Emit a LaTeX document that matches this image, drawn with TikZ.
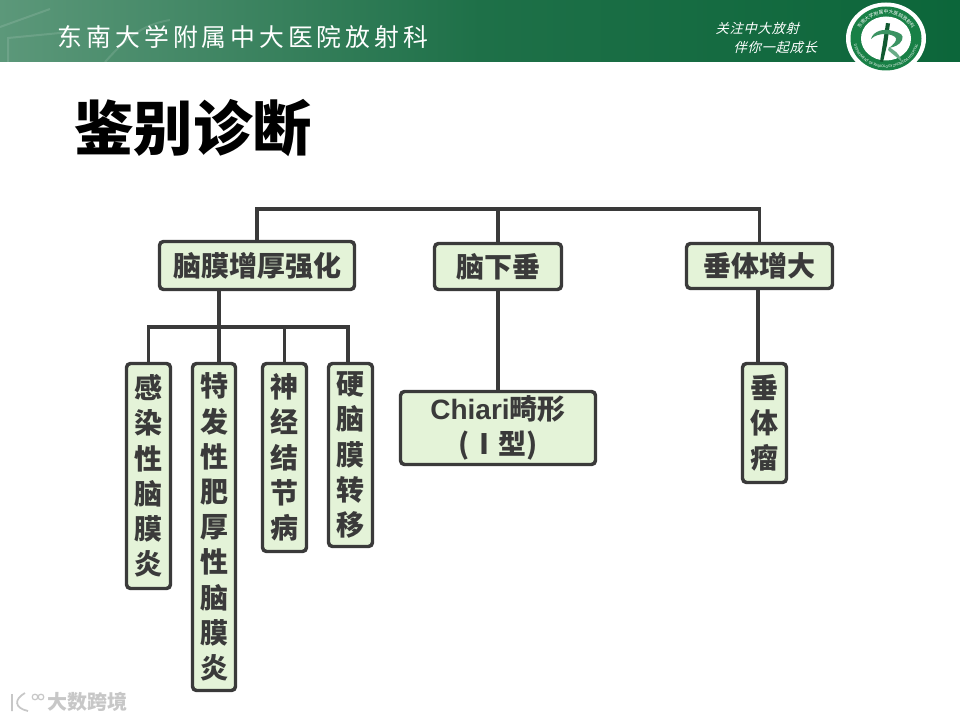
\documentclass[tikz,border=0pt]{standalone}
\usepackage{fontspec}
\usepackage{xcolor}
\setmainfont{Noto Sans CJK SC}
\newfontfamily\headfont[LetterSpace=16]{Noto Sans CJK SC}
\newfontfamily\mottofont[FakeSlant=0.25,LetterSpace=5]{Noto Sans CJK SC}
\newfontfamily\latinfont{Liberation Sans}
\usetikzlibrary{positioning,calc,decorations.text}
\definecolor{barleft}{RGB}{92,152,122}
\definecolor{barmid}{RGB}{30,112,72}
\definecolor{barright}{RGB}{12,102,58}
\definecolor{boxfill}{RGB}{228,243,216}
\definecolor{boxline}{RGB}{58,58,58}
\definecolor{logogreen}{RGB}{24,128,70}

\begin{document}
\begin{tikzpicture}[
    x=0.75pt, y=-0.75pt,
    item/.style={rectangle, draw=boxline, fill=boxfill, line width=2.6pt, rounded corners=3pt, inner sep=0pt, align=center, text=boxline, font=\fontsize{21}{26.4}\selectfont\bfseries},
    wh/.style 2 args={minimum width=#1*0.75pt, minimum height=#2*0.75pt},
    conn/.style={draw=boxline, line width=2.5pt},
]
\useasboundingbox (0,0) rectangle (960,720);
\fill[white] (0,0) rectangle (960,720);

% header band
\path[left color=barleft, right color=barright, middle color=barmid] (0,0) rectangle (960,62);
\draw[white, opacity=0.12, line width=1.5pt] (0,27) -- (50,9) (8,62) -- (8,38) -- (70,32) (105,62) .. controls (125,40) and (140,25) .. (170,20);
\node[text=white, font=\fontsize{18.6}{22}\headfont] (dept) at (243,37) {东南大学附属中大医院放射科};
\node[text=white, anchor=west, font=\fontsize{10}{12}\mottofont] (motto1) at (711,28) {关注中大放射};
\node[text=white, anchor=west, font=\fontsize{10}{12}\mottofont] (motto2) at (729,47) {伴你一起成长};

% logo
\fill[white] (886,38.5) ellipse [x radius=40, y radius=36];
\fill[logogreen] (886,38.5) ellipse [x radius=35.5, y radius=32];
\fill[white] (886,38.5) ellipse [x radius=25, y radius=22];
\path[postaction={decorate, decoration={text along path, text align=center, text={|\fontsize{3.6}{4}\selectfont\color{white}|东南大学附属中大医院放射科}}}]
    (858,38.5) arc [start angle=180, end angle=360, x radius=28, y radius=24.5];
\path[postaction={decorate, decoration={text along path, text align=center, text={|\fontsize{2.7}{3}\selectfont\color{white}|DEPARTMENT OF RADIOLOGY ZHONGDA HOSPITAL}}}]
    (853,38.5) arc [start angle=180, end angle=0, x radius=33, y radius=29.5];
\fill[logogreen!70!black] (886,23) -- (890,23.5) -- (887,45) -- (883,62) -- (880,61.5) -- (883,43) -- cycle;
\fill[logogreen!85!white] (871,39) .. controls (873,31) and (884,28) .. (893,31) .. controls (901,33) and (904,35) .. (902,40) .. controls (900,45) and (894,47) .. (889,48) .. controls (893,45) and (897,41) .. (896,38) .. controls (892,33) and (878,32) .. (871,39) -- cycle;
\fill[logogreen!65!white] (889,47) .. controls (893,50) and (899,52) .. (902,62) .. controls (897,57) and (892,54) .. (888,50) -- cycle;

\node[font=\fontsize{44.5}{50}\selectfont\bfseries, text=black] (title) at (193,128) {鉴别诊断};

% first row
\node[item, wh={195}{48}] (menin) at (257,265.5) {脑膜增厚强化};
\node[item, wh={127}{46}] (low) at (498,266.5) {脑下垂};
\node[item, wh={146}{45}] (large) at (759.5,266) {垂体增大};

% second row
\node[item, wh={44}{225}] (infect) at (148.5,476) {感\\染\\性\\脑\\膜\\炎};
\node[item, wh={43}{327}] (idio) at (214,527) {特\\发\\性\\肥\\厚\\性\\脑\\膜\\炎};
\node[item, wh={44}{188}] (neuro) at (284.5,457.5) {神\\经\\结\\节\\病};
\node[item, wh={44}{183}] (dura) at (350.5,455) {硬\\脑\\膜\\转\\移};
\node[item, wh={195}{73}] (chiari) at (498,428) {{\latinfont Chiari}畸形\\(Ⅰ型)};
\node[item, wh={44}{119}] (tumor) at (764.5,423) {垂\\体\\瘤};

\coordinate (topbar) at (498,209);
\coordinate (subbar) at (219,327);

\draw[conn] (menin.north) |- (topbar) -| (large.north);
\draw[conn] (topbar) -- (low.north);
\draw[conn] (low.south) -- (chiari.north);
\draw[conn] ([xshift=-1.25pt]large.south) -- ([xshift=-5pt]tumor.north);
\draw[conn] (subbar |- menin.south) -- (subbar |- idio.north);
\draw[conn] (infect.north) |- (subbar) -| ([xshift=-2pt]dura.north);
\draw[conn] (subbar -| neuro.north) -- (neuro.north);

% watermark
\node[text=black!22, font=\fontsize{15}{18}\selectfont\bfseries] (mark) at (87,702) {大数跨境};
\draw[black!22, line width=1.3pt] (12,694) -- (12,711) (25,693) .. controls (14,699) and (14,708) .. (28,711);
\draw[black!22, line width=0.9pt] (35,697) circle [radius=2.8] (41,697) circle [radius=2.8];
\end{tikzpicture}
\end{document}
